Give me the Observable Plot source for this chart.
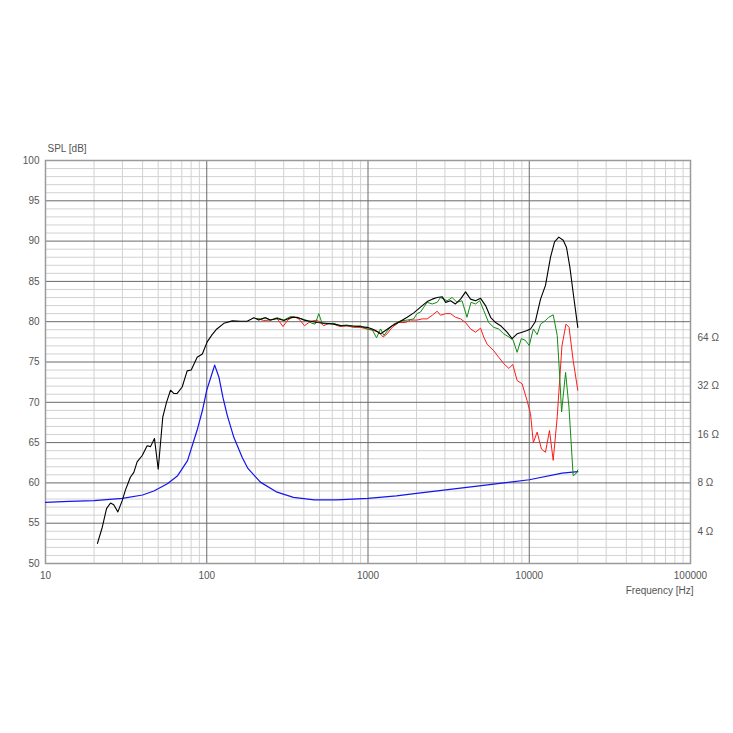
<!DOCTYPE html>
<html>
<head>
<meta charset="utf-8">
<script src="https://cdn.jsdelivr.net/npm/d3@7"></script>
<script src="https://cdn.jsdelivr.net/npm/@observablehq/plot@0.6"></script>
<style>
  html, body { margin: 0; padding: 0; background: #fff; }
</style>
</head>
<body>
<div id="chart"></div>
<script>
// ---- data ----
const onAxisFreq = [21.0,22.5,23.9,25.3,26.5,28.1,29.9,31.3,33.6,35.3,37.0,39.8,42.7,44.8,47.4,50.0,53.4,56.3,59.6,62.4,65.6,70.4,75.6,80.1,87.2,93.9,100.6,108,115.5,127.7,144,162,178,196,210,231,248,273,301,331,363,400,440,484,545,613,691,778,876,988,1062,1113,1197,1284,1412,1590,1749,1922,2117,2328,2504,2685,2890,3030,3250,3487,3748,4027,4324,4645,4990,5359,5757,6183,6641,7280,7830,8410,9030,9700,10180,10900,11750,12610,13550,14350,15250,16240,17030,17850,18890,20000];
const onAxisDb = [52.5,54.5,56.8,57.5,57.3,56.4,57.8,59.1,60.7,61.3,62.6,63.4,64.6,64.5,65.5,61.7,68.2,70.0,71.5,71.1,71.1,71.9,73.9,74.0,75.6,76.0,77.5,78.4,79.1,79.8,80.1,80.05,80.05,80.5,80.2,80.5,80.2,80.4,80.15,80.5,80.55,80.2,80.05,79.9,79.8,79.7,79.5,79.5,79.4,79.3,79.1,78.9,78.5,78.9,79.5,80.05,80.55,81.1,81.8,82.5,82.8,83.0,83.1,82.4,82.6,82.2,82.8,83.7,82.8,82.6,82.9,82.0,80.55,79.9,79.5,78.7,77.9,78.5,78.7,78.9,79.1,80.0,82.8,84.5,88.0,89.9,90.5,90.1,89.2,86.8,83.0,79.3];

const off30Freq = [200,215,231,248,273,301,331,363,390,418,449,470,495,519,557,613,670,737,812,896,988,1062,1130,1197,1255,1348,1445,1590,1749,1922,2010,2117,2218,2328,2504,2685,2816,3097,3324,3567,3830,4110,4350,4645,4930,5220,5600,6020,6460,6940,7480,7950,8410,8930,9440,10000,10600,11200,11750,12610,13200,14080,14910,15420,15870,16800,17630,18720,19380,20000];
const off30Db = [80.4,80.35,80.5,80.2,80.5,80.2,80.65,80.5,80.35,80.15,79.8,79.7,81.0,79.8,79.7,79.8,79.5,79.6,79.4,79.5,79.1,79.0,78.0,79.1,78.3,79.1,79.7,80.1,80.2,80.35,81.0,81.2,81.8,82.4,82.2,82.4,83.0,82.6,83.0,82.4,82.6,80.55,82.4,82.2,82.6,81.4,79.9,79.3,79.1,78.5,78.1,77.7,76.2,77.9,77.7,77.05,79.1,78.4,79.7,80.15,80.55,80.85,78.3,73.5,68.8,73.7,69.4,60.9,61.1,61.6];

const off60Freq = [200,210,225,248,273,297,318,345,372,404,440,484,532,571,613,670,737,812,896,988,1087,1168,1241,1315,1412,1552,1706,1830,2010,2170,2328,2504,2685,2816,3030,3250,3487,3748,4027,4324,4645,4990,5220,5480,6020,6460,6940,7480,7900,8410,9030,9700,10180,10600,11200,11900,12610,13350,14080,14910,15950,16900,17660,18720,20000];
const off60Db = [80.4,80.35,80.15,80.2,80.4,79.4,80.2,80.65,80.35,79.5,80.05,80.2,79.5,79.8,79.7,79.4,79.5,79.3,79.3,79.1,78.9,78.7,78.1,78.5,79.3,79.9,79.9,80.2,80.2,80.35,80.35,80.8,81.3,80.8,81.0,81.0,80.55,80.35,79.9,79.1,78.7,79.2,78.1,77.2,76.4,75.6,74.8,74.2,74.7,72.7,72.3,70.2,68.6,65.0,66.3,64.2,63.8,66.5,62.8,68.2,77.0,79.7,79.3,75.2,71.5];

const impFreq = [10,14,20,25,30,40,47,57,66,76,87,94,100,106,112,119,126,134,147,166,180,215,273,345,464,640,1000,1500,2000,5200,10000,16000,20000];
const impOhm = [6.06,6.14,6.21,6.32,6.42,6.73,7.13,7.91,8.87,11.0,16.9,22.5,30.1,36.2,43.0,36.2,27.1,21.0,15.4,11.5,9.84,8.09,7.01,6.50,6.28,6.28,6.42,6.65,6.89,7.73,8.37,9.19,9.40];

const decadeTicks = [10,100,1000,10000,100000];
const dbTicks = [50,55,60,65,70,75,80,85,90,95,100];
const ohmTicks = [4,8,16,32,64];

// ---- helpers ----
const ohmToDb = z => 60 + 20 * Math.log10(z / 8);
const dbToOhm = d => Math.round(8 * Math.pow(10, (d - 60) / 20));
const zip = (fs, vs) => fs.map((f, i) => ({f, v: vs[i]}));

const minorFreq = [];
for (let dec = 10; dec < 100000; dec *= 10) for (let k = 2; k <= 9; k++) minorFreq.push(dec * k);
const minorDb = d3.range(50, 101).filter(d => d % 5 !== 0);

const onAxis = zip(onAxisFreq, onAxisDb);
const off30 = zip(off30Freq, off30Db);
const off60 = zip(off60Freq, off60Db);
const imp = impFreq.map((f, i) => ({f, v: ohmToDb(impOhm[i])}));

const chart = Plot.plot({
  width: 733,
  height: 733,
  marginLeft: 45,
  marginRight: 43,
  marginTop: 160,
  marginBottom: 170,
  style: {fontFamily: '"Liberation Sans", Arial, sans-serif', fontSize: "10px", color: "#555", background: "#fff"},
  x: {type: "log", domain: [10, 100000]},
  y: {domain: [50, 100]},
  marks: [
    Plot.ruleX(minorFreq, {stroke: "#d2d2d2", strokeWidth: 1}),
    Plot.ruleY(minorDb, {stroke: "#d2d2d2", strokeWidth: 1}),
    Plot.ruleX(decadeTicks, {stroke: "#6a6a6a", strokeWidth: 1}),
    Plot.ruleY(dbTicks, {stroke: "#6a6a6a", strokeWidth: 1}),
    Plot.frame({stroke: "#9a9a9a", strokeWidth: 1.5}),
    Plot.axisX(decadeTicks, {tickSize: 0, tickPadding: 8, tickFormat: d => String(d), label: null}),
    Plot.axisY(dbTicks, {tickSize: 0, tickPadding: 6, label: null}),
    Plot.axisY(ohmTicks.map(ohmToDb), {anchor: "right", tickSize: 0, tickPadding: 7, tickFormat: d => dbToOhm(d) + " Ω", label: null}),
    Plot.text(["SPL [dB]"], {frameAnchor: "top-left", dx: 2, dy: -16, textAnchor: "start", text: d => d, fill: "#555"}),
    Plot.text(["Frequency [Hz]"], {frameAnchor: "bottom-right", dx: 3, dy: 30, textAnchor: "end", text: d => d, fill: "#555"}),
    Plot.line(imp, {x: "f", y: "v", stroke: "#1414f0", strokeWidth: 1.2}),
    Plot.line(off60, {x: "f", y: "v", stroke: "#ff1a1a", strokeWidth: 1}),
    Plot.line(off30, {x: "f", y: "v", stroke: "#118c11", strokeWidth: 1}),
    Plot.line(onAxis, {x: "f", y: "v", stroke: "#000", strokeWidth: 1.1})
  ]
});
document.getElementById("chart").append(chart);
</script>
</body>
</html>
